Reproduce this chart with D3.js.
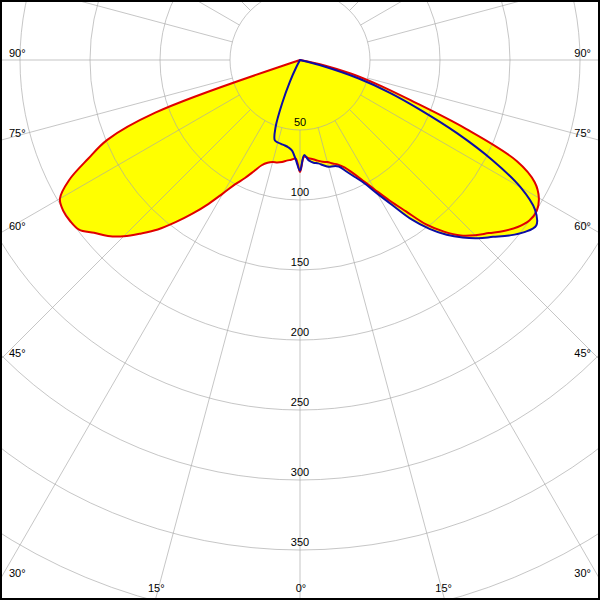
<!DOCTYPE html>
<html><head><meta charset="utf-8">
<script src="https://cdn.jsdelivr.net/npm/d3@7"></script>
<style>
body{margin:0;background:#fff}
svg{display:block}
</style>
</head><body>
<svg id="chart" width="600" height="600"></svg>
<script>
// gamma angles (degrees from nadir)
const gamma = [0,2.5,5,7.5,10,12.5,15,17.5,20,22.5,25,27.5,30,32.5,35,37.5,40,42.5,45,47.5,50,52.5,55,57.5,60,62.5,65,67.5,70,72.5,75,77.5,80,82.5,85,87.5,90];
// C0 (right) and C180 (left) plane – red
const c0   = [80,69,70.5,71.5,73,74.5,75.5,77.5,79.5,83,89,97,107,119,132,148,160,170,177,183,190,196,200,200.5,197,189,171,128,84,58,38,18,0,0,0,0,0];
const c180 = [80,70.5,71.5,72.5,74,75,75.5,77,80,86,93,100,110,122,134,146,158,168,178,186,192,199,200.5,200.5,198,186,167,149,110,0,0,0,0,0,0,0,0];
// C90 (right) and C270 (left) plane – blue
const c90  = [79,68,72,74,75,77,79,79.5,81,86,92,99,110,123,139,152,163,172,180,187,195,202,206,199,182,155,124,93,68,44,18,0,0,0,0,0,0];
const c270 = [79,71,65,63,62,61.5,61,60,51,33,17,6,0,0,0,0,0,0,0,0,0,0,0,0,0,0,0,0,0,0,0,0,0,0,0,0,0];
// grid
const ringValues = [50,100,150,200,250,300,350,400];
const spokeAngles = [0,15,30,45,60,75,90,105,120,135,150,165,180,195,210,225,240,255,270,285,300,315,330,345];
const angleLabels = [0,15,30,45,60,75,90];

const W = 600, H = 600, cx = 300, cy = 60;
const FONT = "'Liberation Sans', Arial, sans-serif";
const svg = d3.select("#chart");
const rad = d3.scaleLinear().domain([0,400]).range([0,560]);
const toRad = d => d * Math.PI / 180;

svg.append("defs").append("clipPath").attr("id","frame")
  .append("rect").attr("x",0).attr("y",0).attr("width",W).attr("height",H);

const g = svg.append("g").attr("clip-path","url(#frame)")
  .append("g").attr("transform",`translate(${cx},${cy})`);

function planePoints(right, left){
  const pts = [];
  let lastZero = false;
  for (let i = gamma.length-1; i >= 0; i--) {
    const v = left[i];
    if (v === 0 && lastZero) continue;
    lastZero = v === 0;
    pts.push({a: Math.PI + toRad(gamma[i]), v});
  }
  for (let i = 1; i < gamma.length; i++) {
    const v = right[i];
    if (v === 0 && lastZero) continue;
    lastZero = v === 0;
    pts.push({a: Math.PI - toRad(gamma[i]), v});
  }
  return pts;
}
const line = d3.lineRadial().angle(d => d.a).radius(d => rad(d.v)).curve(d3.curveCatmullRomClosed.alpha(0.5));

const red = planePoints(c0, c180);
const blue = planePoints(c90, c270);

// fill
g.append("path").attr("d", line(red)).attr("fill","#ffff00").attr("stroke","none");
g.append("path").attr("d", line(blue)).attr("fill","#ffff00").attr("stroke","none");

// grid
const grid = g.append("g").attr("stroke","#a8a8a8").attr("stroke-opacity",0.65).attr("fill","none").attr("stroke-width",1);
grid.selectAll("circle").data(ringValues).join("circle").attr("r", d => rad(d));
grid.selectAll("line").data(spokeAngles).join("line")
  .attr("x1", d => d3.pointRadial(Math.PI - toRad(d), rad(50))[0])
  .attr("y1", d => d3.pointRadial(Math.PI - toRad(d), rad(50))[1])
  .attr("x2", d => d3.pointRadial(Math.PI - toRad(d), rad(600))[0])
  .attr("y2", d => d3.pointRadial(Math.PI - toRad(d), rad(600))[1]);

// curves
g.append("path").attr("d", line(red)).attr("fill","none").attr("stroke","#e00000").attr("stroke-width",2).attr("stroke-linejoin","round");
g.append("path").attr("d", line(blue)).attr("fill","none").attr("stroke","#0c0ca6").attr("stroke-width",2).attr("stroke-linejoin","round");

// radial value labels
g.selectAll("text.rv").data(ringValues.filter(v => v < 400)).join("text").attr("class","rv")
  .attr("x",0).attr("y", d => rad(d) - 4).attr("text-anchor","middle")
  .attr("fill","#000").attr("font-family",FONT).attr("font-size",11).text(d => d);

// angle labels at frame edge
const lab = svg.append("g").attr("fill","#000").attr("font-family",FONT).attr("font-size",11);
angleLabels.forEach(a => {
  [-1,1].forEach(side => {
    if (a === 0 && side === 1) return;
    const dx = side * Math.sin(toRad(a)), dy = Math.cos(toRad(a));
    const tx = Math.abs(dx) > 1e-9 ? (side > 0 ? W - cx : cx) / Math.abs(dx) : Infinity;
    const ty = dy > 1e-9 ? (H - cy) / dy : Infinity;
    if (tx < ty) {
      const yi = cy + tx * dy;
      lab.append("text").attr("x", side < 0 ? 9 : W - 9).attr("y", yi - 3)
        .attr("text-anchor", side < 0 ? "start" : "end").text(a + "°");
    } else {
      const xi = cx + ty * dx;
      lab.append("text").attr("x", xi - side * 1).attr("y", H - 8)
        .attr("text-anchor","middle").text(a + "°");
    }
  });
});

// frame
svg.append("rect").attr("x",1).attr("y",1).attr("width",W-2).attr("height",H-2)
  .attr("fill","none").attr("stroke","#000").attr("stroke-width",2);
</script>
</body></html>
